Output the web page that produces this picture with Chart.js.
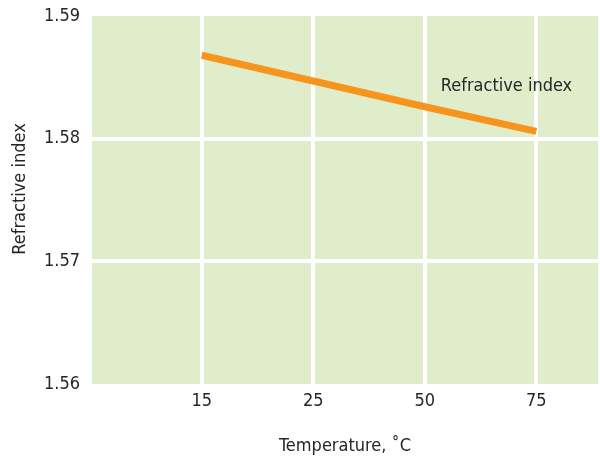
<!DOCTYPE html>
<html>
<head>
<meta charset="utf-8">
<script src="https://cdn.jsdelivr.net/npm/chart.js@4.4.1/dist/chart.umd.min.js"></script>
<style>
html,body{margin:0;padding:0;background:#fff;}
#wrap{width:600px;height:459px;}
</style>
</head>
<body>
<div id="wrap"><canvas id="c" width="600" height="459"></canvas></div>
<script>
const categories = ['15', '25', '50', '75'];
const refractiveIndex = [1.5868, 1.5847, 1.5826, 1.5806];
const yTicks = [1.56, 1.57, 1.58, 1.59];
const seriesName = 'Refractive index';
const xTitle = 'Temperature, ˚C';
const yTitle = 'Refractive index';

const FONT = "'DejaVu Sans Condensed', 'Liberation Sans Narrow', 'Liberation Sans', sans-serif";
const FS = 18;
const TEXT = '#262626';

const bgPlugin = {
  id: 'bg',
  beforeDraw(chart) {
    const {ctx, chartArea: a} = chart;
    ctx.save();
    ctx.fillStyle = '#e0edcb';
    ctx.fillRect(a.left, a.top, a.right - a.left, a.bottom - a.top);
    ctx.restore();
  }
};
const labelPlugin = {
  id: 'seriesLabel',
  afterDatasetsDraw(chart) {
    const {ctx, scales} = chart;
    const x = scales.x.getPixelForValue(3) + 16;
    const y = scales.y.getPixelForValue(1.58428);
    ctx.save();
    ctx.font = FS + 'px ' + FONT;
    ctx.fillStyle = TEXT;
    ctx.textAlign = 'left';
    ctx.textBaseline = 'middle';
    ctx.fillText(seriesName, x, y);
    // y-axis title, centred slightly above the plot middle as in the original
    ctx.translate(20, scales.y.getPixelForValue(1.5759));
    ctx.rotate(-Math.PI / 2);
    ctx.textAlign = 'center';
    ctx.fillText(yTitle, 0, 0);
    ctx.restore();
  }
};

new Chart(document.getElementById('c'), {
  type: 'line',
  data: {
    datasets: [{
      label: seriesName,
      data: refractiveIndex.map((v, i) => ({x: i + 1, y: v})),
      borderColor: '#f7941d',
      borderWidth: 7,
      borderCapStyle: 'butt',
      pointRadius: 0,
      tension: 0,
      fill: false
    }]
  },
  options: {
    responsive: false,
    animation: false,
    layout: {padding: {top: 16, right: 2, left: 0, bottom: 0}},
    plugins: {legend: {display: false}, tooltip: {enabled: false}},
    scales: {
      x: {
        type: 'linear',
        min: 0.016,
        max: 4.553,
        afterBuildTicks(s) { s.ticks = categories.map((c, i) => ({value: i + 1})); },
        ticks: {
          callback: (v) => categories[Math.round(v) - 1],
          color: TEXT, font: {family: FONT, size: FS}, padding: 7, maxRotation: 0, autoSkip: false
        },
        grid: {color: '#ffffff', lineWidth: 4, drawTicks: false},
        border: {display: false},
        title: {display: true, text: xTitle, color: TEXT, font: {family: FONT, size: FS}, padding: {top: 12, bottom: 2}},
        afterFit(s) { s.height = 75; s.paddingLeft = 0; s.paddingRight = 0; }
      },
      y: {
        min: 1.56,
        max: 1.59,
        afterBuildTicks(s) { s.ticks = yTicks.map(v => ({value: v})); },
        ticks: {
          callback: (v) => v.toFixed(2),
          color: TEXT, font: {family: FONT, size: FS}, padding: 12
        },
        grid: {
          color: (c) => (c.tick && (c.tick.value === 1.56 || c.tick.value === 1.59)) ? 'rgba(0,0,0,0)' : '#ffffff',
          lineWidth: 4, drawTicks: false
        },
        border: {display: false},
        title: {display: false},
        afterFit(s) { s.width = 92; s.paddingTop = 0; s.paddingBottom = 0; }
      }
    }
  },
  plugins: [bgPlugin, labelPlugin]
});
</script>
</body>
</html>
